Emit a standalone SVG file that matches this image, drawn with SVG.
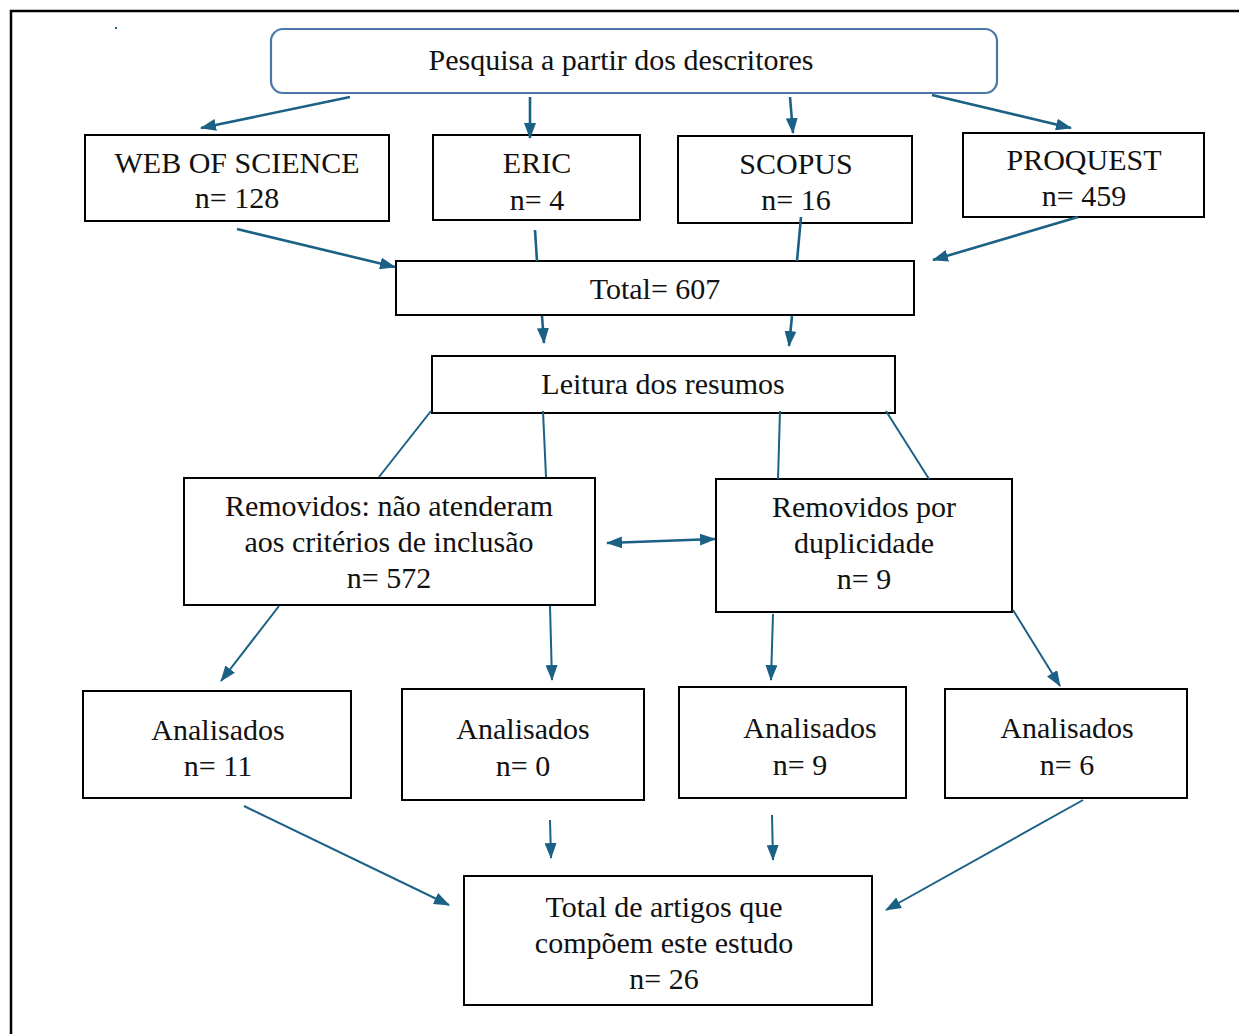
<svg xmlns="http://www.w3.org/2000/svg" width="1239" height="1034" viewBox="0 0 1239 1034">
<defs>
<style>
.box{fill:#fff;stroke:#000;stroke-width:2}
.top{fill:#fff;stroke:#4a76a8;stroke-width:2.2}
text{font-family:"Liberation Serif","DejaVu Serif",serif;font-size:30px;fill:#111;text-anchor:middle}
.c{stroke:#1b6186;stroke-width:2.6;fill:none}
.t{stroke:#1b6186;stroke-width:2;fill:none}
.a{marker-end:url(#ah)}
</style>
<marker id="ah" viewBox="0 0 16 12" refX="15" refY="6" markerWidth="16" markerHeight="12" markerUnits="userSpaceOnUse" orient="auto">
<path d="M0,0 L16,6 L0,12 Z" fill="#1b6186"/>
</marker>
<marker id="as" viewBox="0 0 16 12" refX="1" refY="6" markerWidth="16" markerHeight="12" markerUnits="userSpaceOnUse" orient="auto">
<path d="M16,0 L0,6 L16,12 Z" fill="#1b6186"/>
</marker>
</defs>
<rect width="1239" height="1034" fill="#fff"/>
<path d="M11,1034 V11 H1239" fill="none" stroke="#000" stroke-width="2.5"/>
<rect x="115" y="27" width="2" height="2" fill="#1b6186"/>

<g id="n-pesquisa"><rect class="top" x="271" y="29" width="726" height="64" rx="12"/><text x="621" y="70">Pesquisa a partir dos descritores</text></g>
<g id="n-wos"><rect class="box" x="85" y="135" width="304" height="86"/><text x="237" y="173">WEB OF SCIENCE</text><text x="237" y="208">n= 128</text></g>
<g id="n-eric"><rect class="box" x="433" y="135" width="207" height="85"/><text x="537" y="173">ERIC</text><text x="537" y="210">n= 4</text></g>
<g id="n-scopus"><rect class="box" x="678" y="136" width="234" height="87"/><text x="796" y="174">SCOPUS</text><text x="796" y="210">n= 16</text></g>
<g id="n-proquest"><rect class="box" x="963" y="133" width="241" height="84"/><text x="1084" y="170">PROQUEST</text><text x="1084" y="206">n= 459</text></g>
<g id="n-total"><rect class="box" x="396" y="261" width="518" height="54"/><text x="655" y="299">Total= 607</text></g>
<g id="n-leitura"><rect class="box" x="432" y="356" width="463" height="57"/><text x="663" y="394">Leitura dos resumos</text></g>
<g id="n-rem1"><rect class="box" x="184" y="478" width="411" height="127"/><text x="389" y="516">Removidos: não atenderam</text><text x="389" y="552">aos critérios de inclusão</text><text x="389" y="588">n= 572</text></g>
<g id="n-rem2"><rect class="box" x="716" y="479" width="296" height="133"/><text x="864" y="517">Removidos por</text><text x="864" y="553">duplicidade</text><text x="864" y="589">n= 9</text></g>
<g id="n-a1"><rect class="box" x="83" y="691" width="268" height="107"/><text x="218" y="740">Analisados</text><text x="218" y="776">n= 11</text></g>
<g id="n-a2"><rect class="box" x="402" y="689" width="242" height="111"/><text x="523" y="739">Analisados</text><text x="523" y="776">n= 0</text></g>
<g id="n-a3"><rect class="box" x="679" y="687" width="227" height="111"/><text x="810" y="738">Analisados</text><text x="800" y="775">n= 9</text></g>
<g id="n-a4"><rect class="box" x="945" y="689" width="242" height="109"/><text x="1067" y="738">Analisados</text><text x="1067" y="775">n= 6</text></g>
<g id="n-final"><rect class="box" x="464" y="876" width="408" height="129"/><text x="664" y="917">Total de artigos que</text><text x="664" y="953">compõem este estudo</text><text x="664" y="989">n= 26</text></g>

<g id="connectors">
<path class="c a" d="M350,97 L201,128"/>
<path class="c a" d="M530,97 L530,138"/>
<path class="c a" d="M790,97 L793,133"/>
<path class="c a" d="M932,95 L1071,128"/>
<path class="c a" d="M237,229 L395,267"/>
<path class="c" d="M535,230 L537,261"/>
<path class="c" d="M801,217 L797,261"/>
<path class="c a" d="M1078,217 L933,260"/>
<path class="c a" d="M542,316 L544,343"/>
<path class="c a" d="M792,316 L789,346"/>
<path class="t" d="M431,411 L379,477"/>
<path class="t" d="M543,411 L546,477"/>
<path class="t" d="M780,411 L778,479"/>
<path class="t" d="M886,411 L929,479"/>
<path class="c a" d="M607,543 L715,539" marker-start="url(#as)"/>
<path class="t a" d="M279,606 L221,681"/>
<path class="t a" d="M550,606 L552,680"/>
<path class="t a" d="M773,614 L771,680"/>
<path class="t a" d="M1013,610 L1060,686"/>
<path class="t a" d="M244,806 L449,905"/>
<path class="t a" d="M550,820 L551,858"/>
<path class="t a" d="M772,815 L773,860"/>
<path class="t a" d="M1083,800 L886,910"/>
</g>
</svg>
